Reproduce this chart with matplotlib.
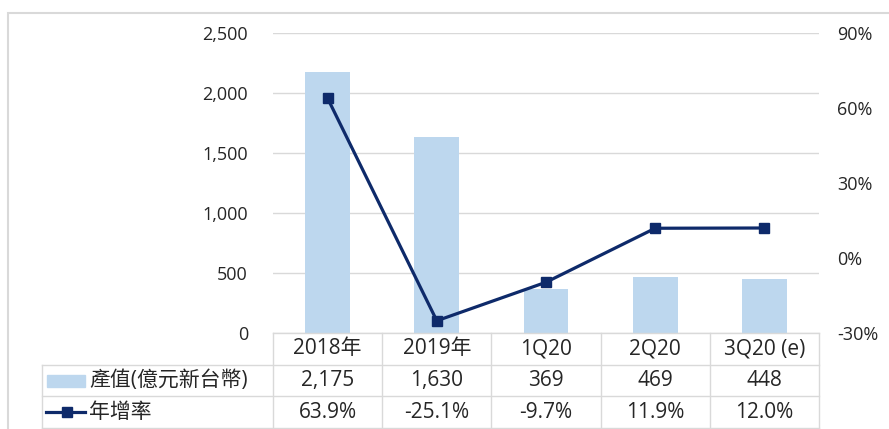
import matplotlib
matplotlib.use("Agg")
import matplotlib.pyplot as plt
from matplotlib.patches import Rectangle
from matplotlib.lines import Line2D
from matplotlib.ticker import FuncFormatter, FixedLocator

plt.rcParams['font.family'] = ['Open Sans', 'Noto Sans CJK TC', 'DejaVu Sans']

categories = ["2018年", "2019年", "1Q20", "2Q20", "3Q20 (e)"]
output_values = [2175, 1630, 369, 469, 448]
growth_rates = [63.9, -25.1, -9.7, 11.9, 12.0]
series_names = ["產值(億元新台幣)", "年增率"]
left_ticks = [0, 500, 1000, 1500, 2000, 2500]
right_ticks = [-30, 0, 30, 60, 90]

BAR_COLOR = "#BDD7EE"
LINE_COLOR = "#0E2A6A"
GRID_COLOR = "#D9D9D9"
TEXT_COLOR = "#262626"
FS_TICK = 13
FS_TAB = 15

W, H = 889, 429
fig = plt.figure(figsize=(W / 100, H / 100), dpi=100)

# outer frame (light gray)
fig.add_artist(Rectangle((8 / W, -0.05), 1.2, 1 - 13 / H + 0.05, transform=fig.transFigure,
                         fill=False, edgecolor="#D9D9D9", linewidth=1.5))

ax_l, ax_r, ax_t, ax_b = 273, 819, 33, 333
ax = fig.add_axes([ax_l / W, 1 - ax_b / H, (ax_r - ax_l) / W, (ax_b - ax_t) / H])
x = list(range(len(categories)))
ax.bar(x, output_values, width=0.41, color=BAR_COLOR, zorder=2)
ax.set_xlim(-0.5, len(categories) - 0.5)
ax.set_ylim(0, 2500)
ax.yaxis.set_major_locator(FixedLocator(left_ticks))
ax.yaxis.set_major_formatter(FuncFormatter(lambda v, p: f"{int(v):,}"))
ax.grid(axis="y", color=GRID_COLOR, linewidth=1, zorder=0)
ax.set_axisbelow(True)
for s in ax.spines.values():
    s.set_visible(False)
ax.tick_params(axis="y", length=0, labelsize=FS_TICK, labelcolor=TEXT_COLOR, pad=18)
ax.set_xticks([])

ax2 = ax.twinx()
ax2.plot(x, growth_rates, color=LINE_COLOR, linewidth=2.3, marker="s", markersize=7.5, zorder=3)
ax2.set_ylim(-30, 90)
ax2.yaxis.set_major_locator(FixedLocator(right_ticks))
ax2.yaxis.set_major_formatter(FuncFormatter(lambda v, p: f"{int(v)}%"))
for s in ax2.spines.values():
    s.set_visible(False)
ax2.tick_params(axis="y", length=0, labelsize=FS_TICK, labelcolor=TEXT_COLOR, pad=13)

# data table drawn below axes
rows_y = [333, 365, 396, 428]  # pixel boundaries
col_px = [ax_l + i * (ax_r - ax_l) / len(categories) for i in range(len(categories) + 1)]
left_px = 42

def fy(py):
    return 1 - py / H

def fx(px):
    return px / W

lkw = dict(color=GRID_COLOR, linewidth=1, transform=fig.transFigure)
fig.add_artist(Line2D([fx(ax_l), fx(col_px[-1])], [fy(rows_y[0])] * 2, **lkw))
for yy in rows_y[1:]:
    fig.add_artist(Line2D([fx(left_px), fx(col_px[-1])], [fy(yy)] * 2, **lkw))
for cx in col_px:
    fig.add_artist(Line2D([fx(cx)] * 2, [fy(rows_y[0]), fy(rows_y[-1])], **lkw))
fig.add_artist(Line2D([fx(left_px)] * 2, [fy(rows_y[1]), fy(rows_y[-1])], **lkw))

trans = ax.get_xaxis_transform()
def row_center_axes(i):
    cy = (rows_y[i] + rows_y[i + 1]) / 2
    return (ax_b - cy) / (ax_b - ax_t)

for i, c in enumerate(categories):
    ax.text(i, row_center_axes(0), c, transform=trans, ha="center", va="center",
            fontsize=FS_TAB, color=TEXT_COLOR, clip_on=False)
    ax.text(i, row_center_axes(1), f"{output_values[i]:,}", transform=trans, ha="center",
            va="center", fontsize=FS_TAB, color=TEXT_COLOR, clip_on=False)
    ax.text(i, row_center_axes(2), f"{growth_rates[i]:.1f}%", transform=trans, ha="center",
            va="center", fontsize=FS_TAB, color=TEXT_COLOR, clip_on=False)

# row labels with legend keys
r1c = (rows_y[1] + rows_y[2]) / 2
r2c = (rows_y[2] + rows_y[3]) / 2
fig.add_artist(Rectangle((fx(47), fy(r1c + 6)), (85 - 47) / W, 12 / H,
                         transform=fig.transFigure, color=BAR_COLOR))
fig.add_artist(Line2D([fx(46), fx(85)], [fy(r2c)] * 2, color=LINE_COLOR, linewidth=2.3,
                      transform=fig.transFigure))
fig.add_artist(Line2D([fx(67)], [fy(r2c)], color=LINE_COLOR, marker="s", markersize=7,
                      transform=fig.transFigure))
fig.text(fx(89), fy(r1c), series_names[0], ha="left", va="center", fontsize=FS_TAB,
         color=TEXT_COLOR)
fig.text(fx(89), fy(r2c), series_names[1], ha="left", va="center", fontsize=FS_TAB,
         color=TEXT_COLOR)

fig.savefig("out.png", dpi=100)
